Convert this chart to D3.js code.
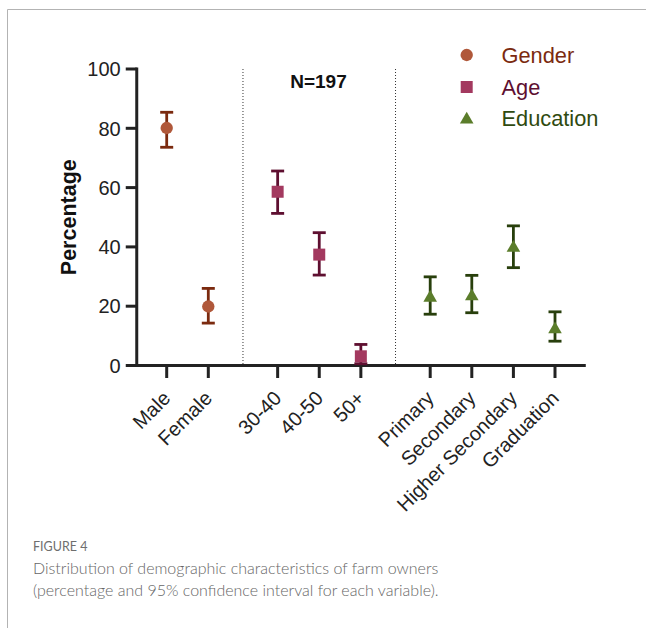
<!DOCTYPE html>
<html>
<head>
<meta charset="utf-8">
<script src="https://cdn.jsdelivr.net/npm/d3@7"></script>
<style>
  html, body { margin: 0; padding: 0; background: #fff; }
  svg { display: block; }
</style>
</head>
<body>
<svg id="chart" width="646" height="628"></svg>
<script>
// ---- data ----
const groups = ["Gender", "Age", "Education"];
const categories = ["Male", "Female", "30-40", "40-50", "50+", "Primary", "Secondary", "Higher Secondary", "Graduation"];
const categoryGroup = ["Gender", "Gender", "Age", "Age", "Age", "Education", "Education", "Education", "Education"];
const values = [80.1, 19.9, 58.6, 37.4, 3.1, 23.2, 23.7, 40.0, 12.5];
const ciLow = [73.6, 14.3, 51.3, 30.5, 0.6, 17.3, 17.8, 33.0, 8.2];
const ciHigh = [85.4, 26.0, 65.6, 44.8, 7.1, 29.9, 30.4, 47.1, 18.1];
const yTicks = [0, 20, 40, 60, 80, 100];
const sampleLabel = "N=197";
const yTitle = "Percentage";
const captionTitle = "FIGURE 4";
const captionLines = ["Distribution of demographic characteristics of farm owners",
                      "(percentage and 95% confidence interval for each variable)."];

// ---- styles ----
const fillColor = { Gender: "#b0583a", Age: "#a3395f", Education: "#5b7d2b" };
const barColor = { Gender: "#7b2a0f", Age: "#5e0f30", Education: "#283f0c" };
const textColor = { Gender: "#7b2a0f", Age: "#5e0f30", Education: "#2f4a10" };
const symbolType = { Gender: d3.symbolCircle, Age: d3.symbolSquare, Education: d3.symbolTriangle };
const symbolSize = { Gender: 120, Age: 144, Education: 80 };
const groupGap = 0.667;
const font = "'Liberation Sans', Arial, Helvetica, sans-serif";

const svg = d3.select("#chart");

// frame
svg.append("path").attr("d", "M7.5,628 V9.5 H646").attr("fill", "none").attr("stroke", "#b3b3b3").attr("stroke-width", 1);

// slot positions
const slot = categories.map((c, i) => i + groups.indexOf(categoryGroup[i]) * groupGap);
const x = d3.scaleLinear().domain([0, slot[slot.length - 1]]).range([166.7, 555]);
const y = d3.scaleLinear().domain([0, 100]).range([365.5, 69]);

const axisLeftX = x(-0.72);
const axisRightX = x(slot[slot.length - 1] + 0.74);

// separators (dotted)
const sepSlots = [];
for (let i = 1; i < categories.length; i++) {
  if (categoryGroup[i] !== categoryGroup[i - 1]) sepSlots.push((slot[i] + slot[i - 1]) / 2);
}
svg.selectAll(".sep").data(sepSlots).join("line")
  .attr("x1", d => x(d)).attr("x2", d => x(d))
  .attr("y1", y(100)).attr("y2", y(0))
  .attr("stroke", "#333").attr("stroke-width", 1).attr("stroke-dasharray", "1,2");

// Y axis
const yAxis = svg.append("g");
yAxis.append("line").attr("x1", axisLeftX).attr("x2", axisLeftX).attr("y1", y(100) - 1.5).attr("y2", y(0) + 1.5)
  .attr("stroke", "#222").attr("stroke-width", 3);
yAxis.selectAll(".yt").data(yTicks).join("line")
  .attr("x1", axisLeftX - 11).attr("x2", axisLeftX).attr("y1", d => y(d)).attr("y2", d => y(d))
  .attr("stroke", "#222").attr("stroke-width", 3);
yAxis.selectAll(".yl").data(yTicks).join("text")
  .attr("x", axisLeftX - 16).attr("y", d => y(d)).attr("dy", "0.36em")
  .attr("text-anchor", "end").attr("font-family", font).attr("font-size", 20).attr("fill", "#222")
  .text(d => d);

// X axis
const xAxis = svg.append("g");
xAxis.append("line").attr("x1", axisLeftX - 1.5).attr("x2", axisRightX).attr("y1", y(0)).attr("y2", y(0))
  .attr("stroke", "#222").attr("stroke-width", 3);
xAxis.selectAll(".xt").data(slot).join("line")
  .attr("x1", d => x(d)).attr("x2", d => x(d)).attr("y1", y(0)).attr("y2", y(0) + 12.5)
  .attr("stroke", "#222").attr("stroke-width", 3);
xAxis.selectAll(".xl").data(categories).join("text")
  .attr("transform", (d, i) => `translate(${x(slot[i]) + 5},${y(0) + 34}) rotate(-45)`)
  .attr("text-anchor", "end").attr("font-family", font).attr("font-size", 20).attr("fill", "#222")
  .text(d => d);

// Y title
svg.append("text")
  .attr("transform", `translate(76,${(y(0) + y(100)) / 2}) rotate(-90)`)
  .attr("text-anchor", "middle").attr("font-family", font).attr("font-size", 21.5)
  .attr("font-weight", "bold").attr("fill", "#111").text(yTitle);

// N label
svg.append("text").attr("x", 318.5).attr("y", 88).attr("text-anchor", "middle")
  .attr("font-family", font).attr("font-size", 19).attr("font-weight", "bold").attr("fill", "#111")
  .text(sampleLabel);

// error bars
const pts = categories.map((c, i) => ({ c, g: categoryGroup[i], s: slot[i], v: values[i], lo: ciLow[i], hi: ciHigh[i] }));
const eb = svg.append("g");
pts.forEach(p => {
  const cx = x(p.s);
  const col = barColor[p.g];
  eb.append("line").attr("x1", cx).attr("x2", cx).attr("y1", y(p.hi)).attr("y2", y(p.lo)).attr("stroke", col).attr("stroke-width", 2.8);
  eb.append("line").attr("x1", cx - 6.5).attr("x2", cx + 6.5).attr("y1", y(p.hi)).attr("y2", y(p.hi)).attr("stroke", col).attr("stroke-width", 2.8);
  eb.append("line").attr("x1", cx - 6.5).attr("x2", cx + 6.5).attr("y1", y(p.lo)).attr("y2", y(p.lo)).attr("stroke", col).attr("stroke-width", 2.8);
});
// markers
svg.selectAll(".mk").data(pts).join("path")
  .attr("transform", d => `translate(${x(d.s)},${y(d.v) + (d.g === "Education" ? 1 : 0)})`)
  .attr("d", d => d3.symbol().type(symbolType[d.g]).size(symbolSize[d.g])())
  .attr("fill", d => fillColor[d.g]);

// legend
const legY = [55, 87, 118.5];
const leg = svg.append("g");
groups.forEach((g, i) => {
  leg.append("path").attr("transform", `translate(466.7,${legY[i] + (g === "Education" ? 1 : 0)})`)
    .attr("d", d3.symbol().type(symbolType[g]).size(symbolSize[g])()).attr("fill", fillColor[g]);
  leg.append("text").attr("x", 501.5).attr("y", legY[i]).attr("dy", "0.35em")
    .attr("font-family", font).attr("font-size", 21.8).attr("fill", textColor[g]).text(g);
});

// caption
const capFont = "Lato, 'Open Sans', sans-serif";
svg.append("text").attr("x", 33).attr("y", 551).attr("font-family", capFont).attr("font-size", 12.5)
  .attr("fill", "#6e6e6e").text(captionTitle);
svg.selectAll(".cap").data(captionLines).join("text")
  .attr("x", 33).attr("y", (d, i) => 574 + i * 21.5)
  .attr("font-family", capFont).attr("font-size", 16).attr("font-weight", 300).attr("fill", "#666")
  .text(d => d);
</script>
</body>
</html>
